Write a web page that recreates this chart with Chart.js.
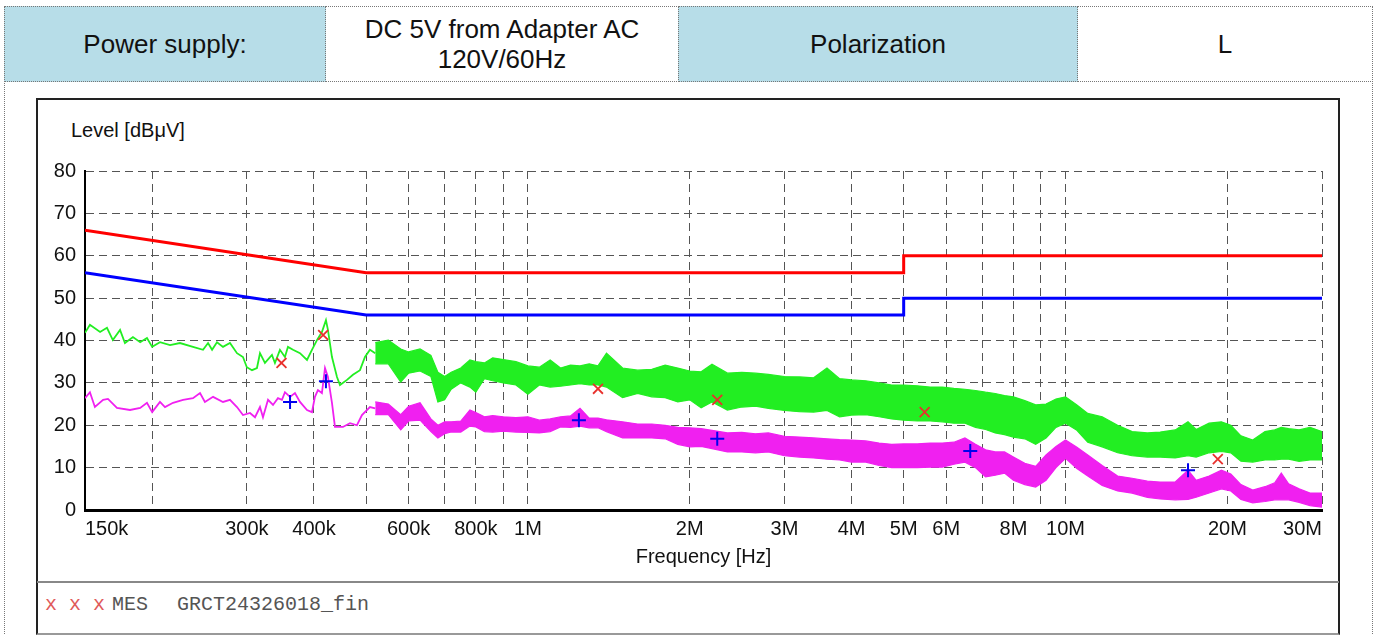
<!DOCTYPE html>
<html>
<head>
<meta charset="utf-8">
<script src="https://cdn.jsdelivr.net/npm/chart.js@4.4.1/dist/chart.umd.min.js"></script>
<style>
    body { margin: 0; background: #fff; font-family: "Liberation Sans", Arial, sans-serif; color: #111; }
    .page { position: relative; width: 1376px; height: 635px; overflow: hidden; }
    .outer { position: absolute; left: 4px; top: 6px; width: 1369px; height: 640px; border: 1px dotted #777; box-sizing: border-box; }
    .cell { position: absolute; top: 6px; height: 76px; border: 1px dotted #777; box-sizing: border-box;
            display: flex; align-items: center; justify-content: center; text-align: center; font-size: 26px; line-height: 30px; }
    .blue { background: #b7dde8; }
    .frame { position: absolute; left: 36px; top: 98px; width: 1304px; height: 537px; border: 2px solid #222;
             border-bottom: 2px solid #999; box-sizing: border-box; }
    .sep { position: absolute; left: 37px; top: 581px; width: 1302px; height: 2px; background: #888; }
    .ylabel { position: absolute; left: 71px; top: 120px; font-size: 20px; line-height: 20px; }
    .legend { position: absolute; top: 595px; font-family: "Liberation Mono", "Courier New", monospace; font-size: 20px; line-height: 20px; color: #555; white-space: pre; }
    #chart { position: absolute; left: 37px; top: 99px; }
</style>
</head>
<body>
<div class="page">
    <div class="outer"></div>
    <div class="cell blue" style="left:4px; width:322px;">Power supply:</div>
    <div class="cell" style="left:325px; width:354px;">DC 5V from Adapter AC<br>120V/60Hz</div>
    <div class="cell blue" style="left:678px; width:400px;">Polarization</div>
    <div class="cell" style="left:1077px; width:296px;">L</div>
    <div class="frame"></div>
    <div class="sep"></div>
    <div class="ylabel">Level [dBμV]</div>
    <canvas id="chart" width="1302" height="483"></canvas>
    <div class="legend" style="left:45px; color:#e05a5a;">x x x</div>
    <div class="legend" style="left:112px;">MES</div>
    <div class="legend" style="left:177px;">GRCT24326018_fin</div>
</div>
<script>
// x axis (MHz)
const tickValues = [0.15, 0.2, 0.3, 0.4, 0.5, 0.6, 0.7, 0.8, 0.9, 1, 2, 3, 4, 5, 6, 7, 8, 9, 10, 20, 30];
const tickLabels = ["150k", "", "300k", "400k", "", "600k", "", "800k", "", "1M", "2M", "3M", "4M", "5M", "6M", "", "8M", "", "10M", "20M", "30M"];

// limit lines
const limitFreq = [0.15, 0.5, 5, 5, 30];
const qpLimit = [66, 56, 56, 60, 60];
const avLimit = [56, 46, 46, 50, 50];

// final measurements
const qpFinalFreq = [0.348, 0.416, 1.35, 2.25, 5.47, 19.2];
const qpFinal = [34.7, 41.3, 28.6, 26.0, 23.1, 12.0];
const avFinalFreq = [0.361, 0.421, 1.244, 2.25, 6.65, 16.9];
const avFinal = [25.5, 30.4, 21.2, 16.8, 13.9, 9.4];

// scan below 520k
const greenLowFreq = [0.15, 0.1532, 0.160, 0.1648, 0.169, 0.1743, 0.178, 0.1842, 0.190, 0.1956, 0.2, 0.2068, 0.2159, 0.2253, 0.2382, 0.2487, 0.2541, 0.2585, 0.264, 0.2709, 0.2791, 0.2876, 0.2951, 0.3, 0.3067, 0.3133, 0.3174, 0.3242, 0.3341, 0.3384, 0.3457, 0.3532, 0.3578, 0.3656, 0.3767, 0.3882, 0.3965, 0.4051, 0.4138, 0.421, 0.4246, 0.432, 0.4414, 0.4471, 0.4607, 0.4726, 0.4871, 0.4976, 0.5083, 0.52];
const greenLow = [41.8, 43.7, 42.0, 43.0, 40.1, 42.5, 39.4, 40.8, 39.6, 40.6, 38.5, 39.6, 38.9, 39.4, 38.5, 37.8, 39.4, 37.8, 39.6, 38.5, 39.4, 37.0, 36.1, 33.7, 33.0, 33.5, 37.0, 34.7, 36.6, 34.7, 37.8, 36.1, 38.5, 37.8, 37.0, 35.4, 37.8, 40.1, 42.0, 44.8, 42.5, 36.1, 31.4, 29.5, 30.7, 31.9, 33.0, 36.1, 37.8, 37.0];
const magentaLowFreq = [0.15, 0.1532, 0.1565, 0.1621, 0.1655, 0.172, 0.1819, 0.190, 0.1956, 0.2, 0.2068, 0.2113, 0.2187, 0.2283, 0.2382, 0.2455, 0.2507, 0.2596, 0.2709, 0.2791, 0.2876, 0.2951, 0.3041, 0.3107, 0.3174, 0.3215, 0.3285, 0.3356, 0.3428, 0.3487, 0.3532, 0.3609, 0.3687, 0.3767, 0.3882, 0.3965, 0.4016, 0.4068, 0.4138, 0.4193, 0.4246, 0.432, 0.4376, 0.4528, 0.4667, 0.4808, 0.4912, 0.5083, 0.52];
const magentaLow = [26.4, 27.8, 24.3, 26.0, 26.2, 24.1, 23.6, 24.1, 25.3, 23.1, 25.5, 24.3, 25.3, 26.0, 26.4, 27.6, 25.5, 26.7, 25.5, 26.0, 24.3, 22.4, 22.9, 21.9, 24.3, 21.9, 26.0, 24.8, 26.4, 26.0, 27.8, 26.7, 27.6, 25.5, 23.6, 23.1, 26.7, 28.3, 27.6, 33.5, 31.4, 25.3, 19.6, 19.6, 20.5, 20.0, 22.4, 24.3, 24.0];

// scan above 520k, top and bottom of the noise band
const bandFreq = [0.52, 0.55, 0.58, 0.6, 0.63, 0.66, 0.68, 0.7, 0.72, 0.75, 0.78, 0.8, 0.83, 0.86, 0.9, 0.95, 1.0, 1.05, 1.1, 1.15, 1.2, 1.25, 1.3, 1.35, 1.4, 1.5, 1.6, 1.7, 1.8, 1.9, 2.0, 2.1, 2.2, 2.35, 2.5, 2.65, 2.8, 3.0, 3.2, 3.4, 3.6, 3.8, 4.0, 4.25, 4.5, 4.75, 5.0, 5.3, 5.6, 5.9, 6.2, 6.5, 6.8, 7.1, 7.4, 7.7, 8.0, 8.4, 8.8, 9.2, 9.6, 10, 10.5, 11, 11.7, 12.5, 13.3, 14.2, 15, 16, 16.9, 17.5, 18.5, 19.5, 20.3, 21.2, 22.3, 23.5, 24.5, 25.2, 26, 27.2, 28.5, 30];
const greenHi = [39.5, 40.1, 38.0, 37.3, 38.0, 36.5, 32.5, 31.5, 32.5, 33.5, 35.4, 35.0, 34.7, 35.9, 35.5, 35.0, 34.0, 33.7, 35.4, 33.5, 34.2, 34.0, 34.5, 34.0, 37.0, 33.5, 33.0, 33.2, 34.2, 33.5, 32.8, 32.6, 34.4, 32.3, 32.5, 32.3, 32.0, 31.5, 31.4, 31.2, 33.5, 31.0, 30.7, 30.5, 30.0, 29.5, 29.5, 29.3, 29.0, 29.0, 28.7, 28.5, 28.2, 27.8, 27.5, 27.0, 26.7, 25.8, 24.8, 25.0, 26.2, 26.7, 24.8, 22.8, 22.0, 20.0, 18.5, 18.2, 18.4, 18.9, 20.8, 19.0, 20.5, 20.8, 20.0, 17.5, 16.5, 18.5, 18.9, 19.5, 19.2, 18.9, 19.5, 18.5];
const greenLo = [34.5, 34.5, 30.2, 32.3, 32.8, 31.5, 25.5, 26.0, 28.5, 30.0, 29.0, 27.8, 31.0, 30.5, 30.0, 29.5, 27.3, 29.5, 29.0, 29.2, 29.5, 29.8, 29.5, 29.5, 29.0, 26.5, 27.5, 26.7, 26.5, 25.5, 26.0, 24.1, 25.5, 23.6, 24.3, 24.5, 24.0, 23.5, 23.2, 23.1, 23.5, 22.0, 22.4, 22.5, 22.0, 21.5, 21.2, 21.0, 21.0, 20.8, 20.5, 20.5, 19.5, 19.0, 18.2, 17.8, 17.2, 16.8, 15.5, 17.0, 19.5, 20.5, 18.8, 16.0, 14.9, 13.5, 12.8, 12.5, 12.5, 12.3, 12.8, 12.5, 13.5, 13.8, 13.5, 11.5, 11.3, 11.8, 11.8, 12.0, 12.0, 11.5, 11.8, 11.8];
const magentaHi = [25.5, 25.0, 22.5, 24.5, 25.3, 21.5, 20.0, 20.8, 20.8, 21.0, 23.6, 23.0, 22.0, 22.3, 22.0, 21.8, 22.0, 21.2, 21.5, 22.0, 22.2, 24.0, 21.7, 21.7, 21.3, 20.8, 20.3, 20.3, 20.0, 19.5, 19.4, 19.2, 18.8, 18.2, 18.3, 18.0, 18.2, 17.4, 17.2, 17.0, 16.8, 16.6, 16.5, 16.3, 15.8, 15.5, 15.6, 15.6, 15.8, 15.8, 16.0, 17.0, 15.5, 14.2, 13.7, 13.7, 12.5, 11.0, 10.3, 13.0, 15.0, 16.5, 14.8, 13.0, 10.5, 8.0, 7.5, 6.8, 6.6, 6.6, 9.4, 7.0, 8.0, 9.4, 8.5, 6.0, 4.7, 5.5, 6.4, 8.7, 6.2, 5.0, 4.0, 4.0];
const magentaLo = [22.5, 22.5, 18.9, 21.0, 21.2, 18.5, 17.0, 18.0, 18.4, 18.4, 19.8, 19.6, 18.5, 18.4, 18.6, 18.4, 18.3, 18.2, 18.5, 19.6, 19.5, 19.8, 19.4, 19.4, 18.5, 17.0, 17.0, 17.0, 16.8, 15.5, 14.9, 15.0, 14.5, 13.7, 13.7, 13.5, 13.7, 12.8, 12.5, 12.3, 12.0, 11.8, 11.3, 11.3, 10.5, 10.0, 10.0, 10.0, 10.1, 10.1, 10.8, 11.3, 10.0, 7.8, 8.2, 8.7, 7.0, 6.0, 5.4, 7.0, 10.0, 12.2, 9.8, 8.0, 5.8, 4.5, 4.0, 3.0, 2.6, 2.4, 2.5, 3.0, 4.0, 5.0, 4.5, 2.5, 1.7, 2.0, 2.4, 2.4, 2.4, 1.8, 1.0, 0.7];

const GREEN = "#22ee22";
const MAGENTA = "#f020f0";

function pts(xs, ys) {
    return xs.map((x, i) => ({x: x, y: ys[i]}));
}

function traceLine(xs, ys, color) {
    return {data: pts(xs, ys), borderColor: color, borderWidth: 1.8, pointRadius: 0, fill: false};
}

function bandEdge(xs, ys, color, fill) {
    return {data: pts(xs, ys), borderColor: color, backgroundColor: color, borderWidth: 1.2, pointRadius: 0, fill: fill};
}

function drawChart() {
    let font = {family: "'Liberation Sans', Arial, sans-serif", size: 20};
    let ctx = document.getElementById("chart").getContext('2d');
    new Chart(ctx, {
        type: 'line',
        data: {
            datasets: [
                {data: pts(qpFinalFreq, qpFinal), showLine: false, pointStyle: 'crossRot', pointRadius: 7,
                    borderColor: '#e8302c', backgroundColor: '#e8302c', pointBorderWidth: 1.8},
                {data: pts(avFinalFreq, avFinal), showLine: false, pointStyle: 'cross', pointRadius: 7,
                    borderColor: '#0000ee', backgroundColor: '#0000ee', pointBorderWidth: 2},
                {data: pts(limitFreq, qpLimit), borderColor: '#ff0000', borderWidth: 3, pointRadius: 0, fill: false},
                {data: pts(limitFreq, avLimit), borderColor: '#0000ff', borderWidth: 3, pointRadius: 0, fill: false},
                traceLine(greenLowFreq, greenLow, GREEN),
                bandEdge(bandFreq, greenHi, GREEN, false),
                bandEdge(bandFreq, greenLo, GREEN, '-1'),
                traceLine(magentaLowFreq, magentaLow, MAGENTA),
                bandEdge(bandFreq, magentaHi, MAGENTA, false),
                bandEdge(bandFreq, magentaLo, MAGENTA, '-1')
            ]
        },
        options: {
            responsive: false,
            animation: false,
            events: [],
            layout: {padding: {top: 72, right: 17, left: 0, bottom: 0}},
            plugins: {legend: {display: false}, tooltip: {enabled: false}},
            scales: {
                x: {
                    type: 'logarithmic',
                    min: 0.15,
                    max: 30,
                    afterBuildTicks: (scale) => { scale.ticks = tickValues.map(v => ({value: v})); },
                    afterFit: (scale) => { scale.height = 72; },
                    ticks: {autoSkip: false, maxRotation: 0, minRotation: 0, align: 'inner', padding: 7, color: '#111', font: font,
                        callback: (value, index) => tickLabels[index]},
                    grid: {color: '#555', lineWidth: 1, drawTicks: false},
                    border: {color: '#000', width: 3, dash: [8, 5]},
                    title: {display: true, text: 'Frequency [Hz]', color: '#111', font: font, padding: {top: 4, bottom: 13}}
                },
                y: {
                    min: 0,
                    max: 80,
                    afterFit: (scale) => { scale.width = 48; },
                    ticks: {stepSize: 10, padding: 9, color: '#111', font: font},
                    grid: {color: '#555', lineWidth: 1, drawTicks: false},
                    border: {color: '#000', width: 2, dash: [8, 5]}
                }
            }
        }
    });
}

drawChart();
</script>
</body>
</html>
